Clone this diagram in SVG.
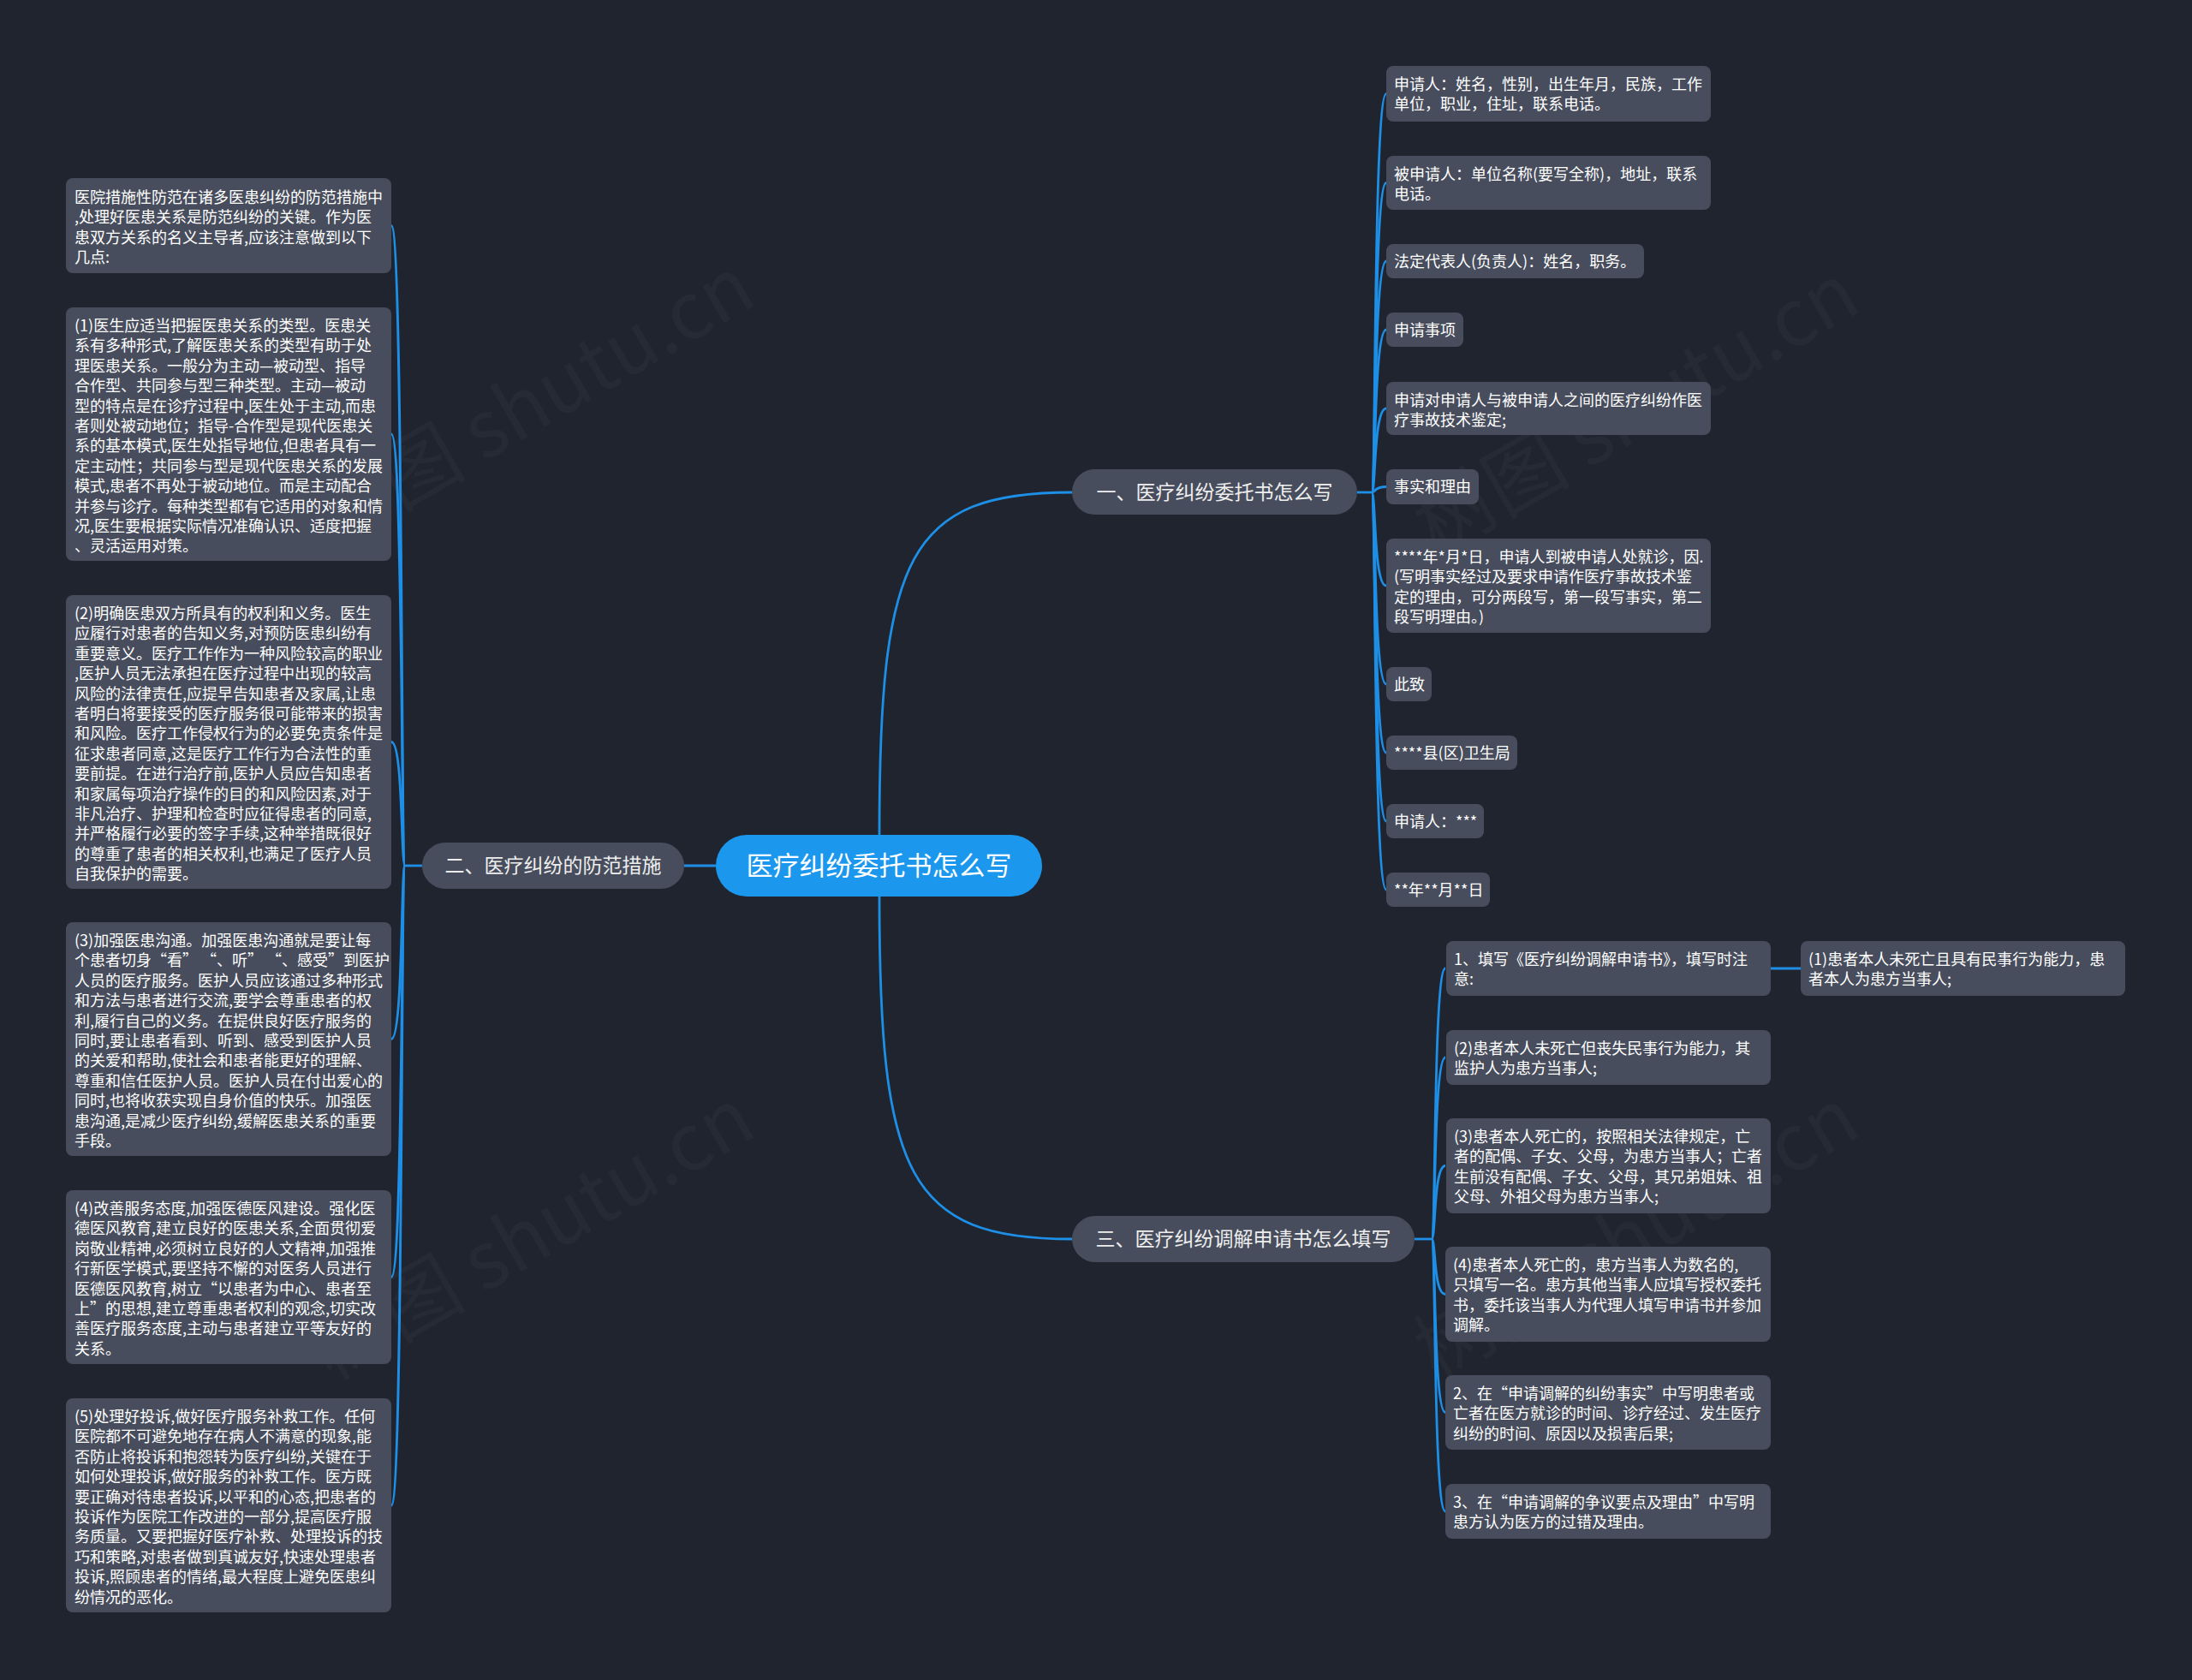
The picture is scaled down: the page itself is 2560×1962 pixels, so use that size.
<svg xmlns="http://www.w3.org/2000/svg" width="2560" height="1962" viewBox="0 0 2560 1962">
<style>
.bg{fill:#20242f}
.wm{font-family:"Noto Sans CJK SC","Liberation Sans",sans-serif;font-size:92px;fill:#ffffff;fill-opacity:0.028}
.leaf rect{fill:#474d5c}
.leaf text{font-family:"Noto Sans CJK SC","Liberation Sans",sans-serif;font-size:18px;fill:#ffffff}
.branch rect{fill:#474d5c}
.branch text{font-family:"Noto Sans CJK SC","Liberation Sans",sans-serif;font-size:23px;fill:#eeeeee;text-anchor:middle}
.root rect{fill:#1c97ee}
.root text{font-family:"Noto Sans CJK SC","Liberation Sans",sans-serif;font-size:31px;fill:#ffffff;text-anchor:middle}
.conn path{fill:none;stroke:#1e8fe6;stroke-width:2.8}
</style>
<rect class="bg" x="0" y="0" width="2560" height="1962"/>
<g id="watermark">
<text class="wm" transform="translate(637,498) rotate(-30)" text-anchor="middle">树图 shutu.cn</text>
<text class="wm" transform="translate(637,1469) rotate(-30)" text-anchor="middle">树图 shutu.cn</text>
<text class="wm" transform="translate(1927,506) rotate(-30)" text-anchor="middle">树图 shutu.cn</text>
<text class="wm" transform="translate(1927,1469) rotate(-30)" text-anchor="middle">树图 shutu.cn</text>
</g>
<g id="connectors" class="conn">
<path d="M 1027 975 C 1027 650 1060 575 1252 575"/>
<path d="M 1027 1047 C 1027 1372 1060 1447 1252 1447"/>
<path d="M 836 1011 H 799"/>
<path d="M 1585 575 H 1602"/>
<path d="M 1602 575 C 1607 575 1604 109.5 1619 109.5"/>
<path d="M 1602 575 C 1607 575 1604 213.5 1619 213.5"/>
<path d="M 1602 575 C 1607 575 1604 305 1619 305"/>
<path d="M 1602 575 C 1607 575 1604 385 1619 385"/>
<path d="M 1602 575 C 1607 575 1604 477 1619 477"/>
<path d="M 1602 575 C 1607 575 1604 568.5 1619 568.5"/>
<path d="M 1602 575 C 1607 575 1604 684 1619 684"/>
<path d="M 1602 575 C 1607 575 1604 799 1619 799"/>
<path d="M 1602 575 C 1607 575 1604 879 1619 879"/>
<path d="M 1602 575 C 1607 575 1604 959 1619 959"/>
<path d="M 1602 575 C 1607 575 1604 1039 1619 1039"/>
<path d="M 493 1011 H 473"/>
<path d="M 473 1011 C 468 1011 471 263.5 457 263.5"/>
<path d="M 473 1011 C 468 1011 471 507 457 507"/>
<path d="M 473 1011 C 468 1011 471 866.5 457 866.5"/>
<path d="M 473 1011 C 468 1011 471 1213.5 457 1213.5"/>
<path d="M 473 1011 C 468 1011 471 1491.5 457 1491.5"/>
<path d="M 473 1011 C 468 1011 471 1758 457 1758"/>
<path d="M 1652 1447 H 1672"/>
<path d="M 1672 1447 C 1677 1447 1674 1131 1688 1131"/>
<path d="M 1672 1447 C 1677 1447 1674 1235 1688 1235"/>
<path d="M 1672 1447 C 1677 1447 1674 1361.5 1688 1361.5"/>
<path d="M 1672 1447 C 1677 1447 1674 1511.5 1688 1511.5"/>
<path d="M 1672 1447 C 1677 1447 1674 1649.5 1688 1649.5"/>
<path d="M 1672 1447 C 1677 1447 1674 1765 1688 1765"/>
<path d="M 2068 1131 H 2103"/>
</g>
<g id="root" class="root">
<rect x="836" y="975" width="381" height="72" rx="36"/>
<text x="1026.5" y="1022">医疗纠纷委托书怎么写</text>
</g>
<g id="branch1" class="branch">
<rect x="1252" y="548" width="333" height="53" rx="26.5"/>
<text x="1418.5" y="583">一、医疗纠纷委托书怎么写</text>
</g>
<g id="branch2" class="branch">
<rect x="493" y="984" width="306" height="54" rx="27"/>
<text x="646" y="1019">二、医疗纠纷的防范措施</text>
</g>
<g id="branch3" class="branch">
<rect x="1252" y="1420" width="400" height="54" rx="27"/>
<text x="1452" y="1455">三、医疗纠纷调解申请书怎么填写</text>
</g>
<g id="b2-n0" class="leaf">
<rect x="77" y="208" width="380" height="111" rx="8"/>
<text x="87" y="237"><tspan x="87">医院措施性防范在诸多医患纠纷的防范措施中</tspan><tspan x="87" dy="23.4">,处理好医患关系是防范纠纷的关键。作为医</tspan><tspan x="87" dy="23.4">患双方关系的名义主导者,应该注意做到以下</tspan><tspan x="87" dy="23.4">几点:</tspan></text>
</g>
<g id="b2-n1" class="leaf">
<rect x="77" y="359" width="380" height="296" rx="8"/>
<text x="87" y="387"><tspan x="87">(1)医生应适当把握医患关系的类型。医患关</tspan><tspan x="87" dy="23.4">系有多种形式,了解医患关系的类型有助于处</tspan><tspan x="87" dy="23.4">理医患关系。一般分为主动—被动型、指导</tspan><tspan x="87" dy="23.4">合作型、共同参与型三种类型。主动—被动</tspan><tspan x="87" dy="23.4">型的特点是在诊疗过程中,医生处于主动,而患</tspan><tspan x="87" dy="23.4">者则处被动地位；指导-合作型是现代医患关</tspan><tspan x="87" dy="23.4">系的基本模式,医生处指导地位,但患者具有一</tspan><tspan x="87" dy="23.4">定主动性；共同参与型是现代医患关系的发展</tspan><tspan x="87" dy="23.4">模式,患者不再处于被动地位。而是主动配合</tspan><tspan x="87" dy="23.4">并参与诊疗。每种类型都有它适用的对象和情</tspan><tspan x="87" dy="23.4">况,医生要根据实际情况准确认识、适度把握</tspan><tspan x="87" dy="23.4">、灵活运用对策。</tspan></text>
</g>
<g id="b2-n2" class="leaf">
<rect x="77" y="695" width="380" height="343" rx="8"/>
<text x="87" y="723"><tspan x="87">(2)明确医患双方所具有的权利和义务。医生</tspan><tspan x="87" dy="23.4">应履行对患者的告知义务,对预防医患纠纷有</tspan><tspan x="87" dy="23.4">重要意义。医疗工作作为一种风险较高的职业</tspan><tspan x="87" dy="23.4">,医护人员无法承担在医疗过程中出现的较高</tspan><tspan x="87" dy="23.4">风险的法律责任,应提早告知患者及家属,让患</tspan><tspan x="87" dy="23.4">者明白将要接受的医疗服务很可能带来的损害</tspan><tspan x="87" dy="23.4">和风险。医疗工作侵权行为的必要免责条件是</tspan><tspan x="87" dy="23.4">征求患者同意,这是医疗工作行为合法性的重</tspan><tspan x="87" dy="23.4">要前提。在进行治疗前,医护人员应告知患者</tspan><tspan x="87" dy="23.4">和家属每项治疗操作的目的和风险因素,对于</tspan><tspan x="87" dy="23.4">非凡治疗、护理和检查时应征得患者的同意,</tspan><tspan x="87" dy="23.4">并严格履行必要的签字手续,这种举措既很好</tspan><tspan x="87" dy="23.4">的尊重了患者的相关权利,也满足了医疗人员</tspan><tspan x="87" dy="23.4">自我保护的需要。</tspan></text>
</g>
<g id="b2-n3" class="leaf">
<rect x="77" y="1077" width="380" height="273" rx="8"/>
<text x="87" y="1105"><tspan x="87">(3)加强医患沟通。加强医患沟通就是要让每</tspan><tspan x="87" dy="23.4">个患者切身“看” “、听” “、感受”到医护</tspan><tspan x="87" dy="23.4">人员的医疗服务。医护人员应该通过多种形式</tspan><tspan x="87" dy="23.4">和方法与患者进行交流,要学会尊重患者的权</tspan><tspan x="87" dy="23.4">利,履行自己的义务。在提供良好医疗服务的</tspan><tspan x="87" dy="23.4">同时,要让患者看到、听到、感受到医护人员</tspan><tspan x="87" dy="23.4">的关爱和帮助,使社会和患者能更好的理解、</tspan><tspan x="87" dy="23.4">尊重和信任医护人员。医护人员在付出爱心的</tspan><tspan x="87" dy="23.4">同时,也将收获实现自身价值的快乐。加强医</tspan><tspan x="87" dy="23.4">患沟通,是减少医疗纠纷,缓解医患关系的重要</tspan><tspan x="87" dy="23.4">手段。</tspan></text>
</g>
<g id="b2-n4" class="leaf">
<rect x="77" y="1390" width="380" height="203" rx="8"/>
<text x="87" y="1418"><tspan x="87">(4)改善服务态度,加强医德医风建设。强化医</tspan><tspan x="87" dy="23.4">德医风教育,建立良好的医患关系,全面贯彻爱</tspan><tspan x="87" dy="23.4">岗敬业精神,必须树立良好的人文精神,加强推</tspan><tspan x="87" dy="23.4">行新医学模式,要坚持不懈的对医务人员进行</tspan><tspan x="87" dy="23.4">医德医风教育,树立“以患者为中心、患者至</tspan><tspan x="87" dy="23.4">上”的思想,建立尊重患者权利的观念,切实改</tspan><tspan x="87" dy="23.4">善医疗服务态度,主动与患者建立平等友好的</tspan><tspan x="87" dy="23.4">关系。</tspan></text>
</g>
<g id="b2-n5" class="leaf">
<rect x="77" y="1633" width="380" height="250" rx="8"/>
<text x="87" y="1661"><tspan x="87">(5)处理好投诉,做好医疗服务补救工作。任何</tspan><tspan x="87" dy="23.4">医院都不可避免地存在病人不满意的现象,能</tspan><tspan x="87" dy="23.4">否防止将投诉和抱怨转为医疗纠纷,关键在于</tspan><tspan x="87" dy="23.4">如何处理投诉,做好服务的补救工作。医方既</tspan><tspan x="87" dy="23.4">要正确对待患者投诉,以平和的心态,把患者的</tspan><tspan x="87" dy="23.4">投诉作为医院工作改进的一部分,提高医疗服</tspan><tspan x="87" dy="23.4">务质量。又要把握好医疗补救、处理投诉的技</tspan><tspan x="87" dy="23.4">巧和策略,对患者做到真诚友好,快速处理患者</tspan><tspan x="87" dy="23.4">投诉,照顾患者的情绪,最大程度上避免医患纠</tspan><tspan x="87" dy="23.4">纷情况的恶化。</tspan></text>
</g>
<g id="b1-a" class="leaf">
<rect x="1619" y="77" width="379" height="65" rx="8"/>
<text x="1628" y="105"><tspan x="1628">申请人：姓名，性别，出生年月，民族，工作</tspan><tspan x="1628" dy="23.4">单位，职业，住址，联系电话。</tspan></text>
</g>
<g id="b1-b" class="leaf">
<rect x="1619" y="182" width="379" height="63" rx="8"/>
<text x="1628" y="210"><tspan x="1628">被申请人：单位名称(要写全称)，地址，联系</tspan><tspan x="1628" dy="23.4">电话。</tspan></text>
</g>
<g id="b1-c" class="leaf">
<rect x="1619" y="285" width="301" height="40" rx="8"/>
<text x="1628" y="312">法定代表人(负责人)：姓名，职务。</text>
</g>
<g id="b1-d" class="leaf">
<rect x="1619" y="365" width="90" height="40" rx="8"/>
<text x="1628" y="392">申请事项</text>
</g>
<g id="b1-e" class="leaf">
<rect x="1619" y="446" width="379" height="62" rx="8"/>
<text x="1628" y="474"><tspan x="1628">申请对申请人与被申请人之间的医疗纠纷作医</tspan><tspan x="1628" dy="23.4">疗事故技术鉴定;</tspan></text>
</g>
<g id="b1-f" class="leaf">
<rect x="1619" y="548" width="108" height="41" rx="8"/>
<text x="1628" y="575">事实和理由</text>
</g>
<g id="b1-g" class="leaf">
<rect x="1619" y="629" width="379" height="110" rx="8"/>
<text x="1628" y="657"><tspan x="1628">****年*月*日，申请人到被申请人处就诊，因.</tspan><tspan x="1628" dy="23.4">(写明事实经过及要求申请作医疗事故技术鉴</tspan><tspan x="1628" dy="23.4">定的理由，可分两段写，第一段写事实，第二</tspan><tspan x="1628" dy="23.4">段写明理由。)</tspan></text>
</g>
<g id="b1-h" class="leaf">
<rect x="1619" y="779" width="53" height="40" rx="8"/>
<text x="1628" y="806">此致</text>
</g>
<g id="b1-i" class="leaf">
<rect x="1619" y="859" width="153" height="40" rx="8"/>
<text x="1628" y="886">****县(区)卫生局</text>
</g>
<g id="b1-j" class="leaf">
<rect x="1619" y="939" width="114" height="40" rx="8"/>
<text x="1628" y="966">申请人：***</text>
</g>
<g id="b1-k" class="leaf">
<rect x="1619" y="1019" width="121" height="40" rx="8"/>
<text x="1628" y="1046">**年**月**日</text>
</g>
<g id="b3-1" class="leaf">
<rect x="1689" y="1099" width="379" height="64" rx="8"/>
<text x="1698" y="1127"><tspan x="1698">1、填写《医疗纠纷调解申请书》，填写时注</tspan><tspan x="1698" dy="23.4">意:</tspan></text>
</g>
<g id="b3-1-1" class="leaf">
<rect x="2103" y="1099" width="379" height="64" rx="8"/>
<text x="2112" y="1127"><tspan x="2112">(1)患者本人未死亡且具有民事行为能力，患</tspan><tspan x="2112" dy="23.4">者本人为患方当事人;</tspan></text>
</g>
<g id="b3-2" class="leaf">
<rect x="1689" y="1203" width="379" height="64" rx="8"/>
<text x="1698" y="1231"><tspan x="1698">(2)患者本人未死亡但丧失民事行为能力，其</tspan><tspan x="1698" dy="23.4">监护人为患方当事人;</tspan></text>
</g>
<g id="b3-3" class="leaf">
<rect x="1689" y="1306" width="379" height="111" rx="8"/>
<text x="1698" y="1334"><tspan x="1698">(3)患者本人死亡的，按照相关法律规定，亡</tspan><tspan x="1698" dy="23.4">者的配偶、子女、父母，为患方当事人；亡者</tspan><tspan x="1698" dy="23.4">生前没有配偶、子女、父母，其兄弟姐妹、祖</tspan><tspan x="1698" dy="23.4">父母、外祖父母为患方当事人;</tspan></text>
</g>
<g id="b3-4" class="leaf">
<rect x="1688" y="1456" width="380" height="111" rx="8"/>
<text x="1697" y="1484"><tspan x="1697">(4)患者本人死亡的，患方当事人为数名的,</tspan><tspan x="1697" dy="23.4">只填写一名。患方其他当事人应填写授权委托</tspan><tspan x="1697" dy="23.4">书，委托该当事人为代理人填写申请书并参加</tspan><tspan x="1697" dy="23.4">调解。</tspan></text>
</g>
<g id="b3-5" class="leaf">
<rect x="1688" y="1606" width="380" height="87" rx="8"/>
<text x="1697" y="1634"><tspan x="1697">2、在“申请调解的纠纷事实”中写明患者或</tspan><tspan x="1697" dy="23.4">亡者在医方就诊的时间、诊疗经过、发生医疗</tspan><tspan x="1697" dy="23.4">纠纷的时间、原因以及损害后果;</tspan></text>
</g>
<g id="b3-6" class="leaf">
<rect x="1688" y="1733" width="380" height="64" rx="8"/>
<text x="1697" y="1761"><tspan x="1697">3、在“申请调解的争议要点及理由”中写明</tspan><tspan x="1697" dy="23.4">患方认为医方的过错及理由。</tspan></text>
</g>
</svg>
